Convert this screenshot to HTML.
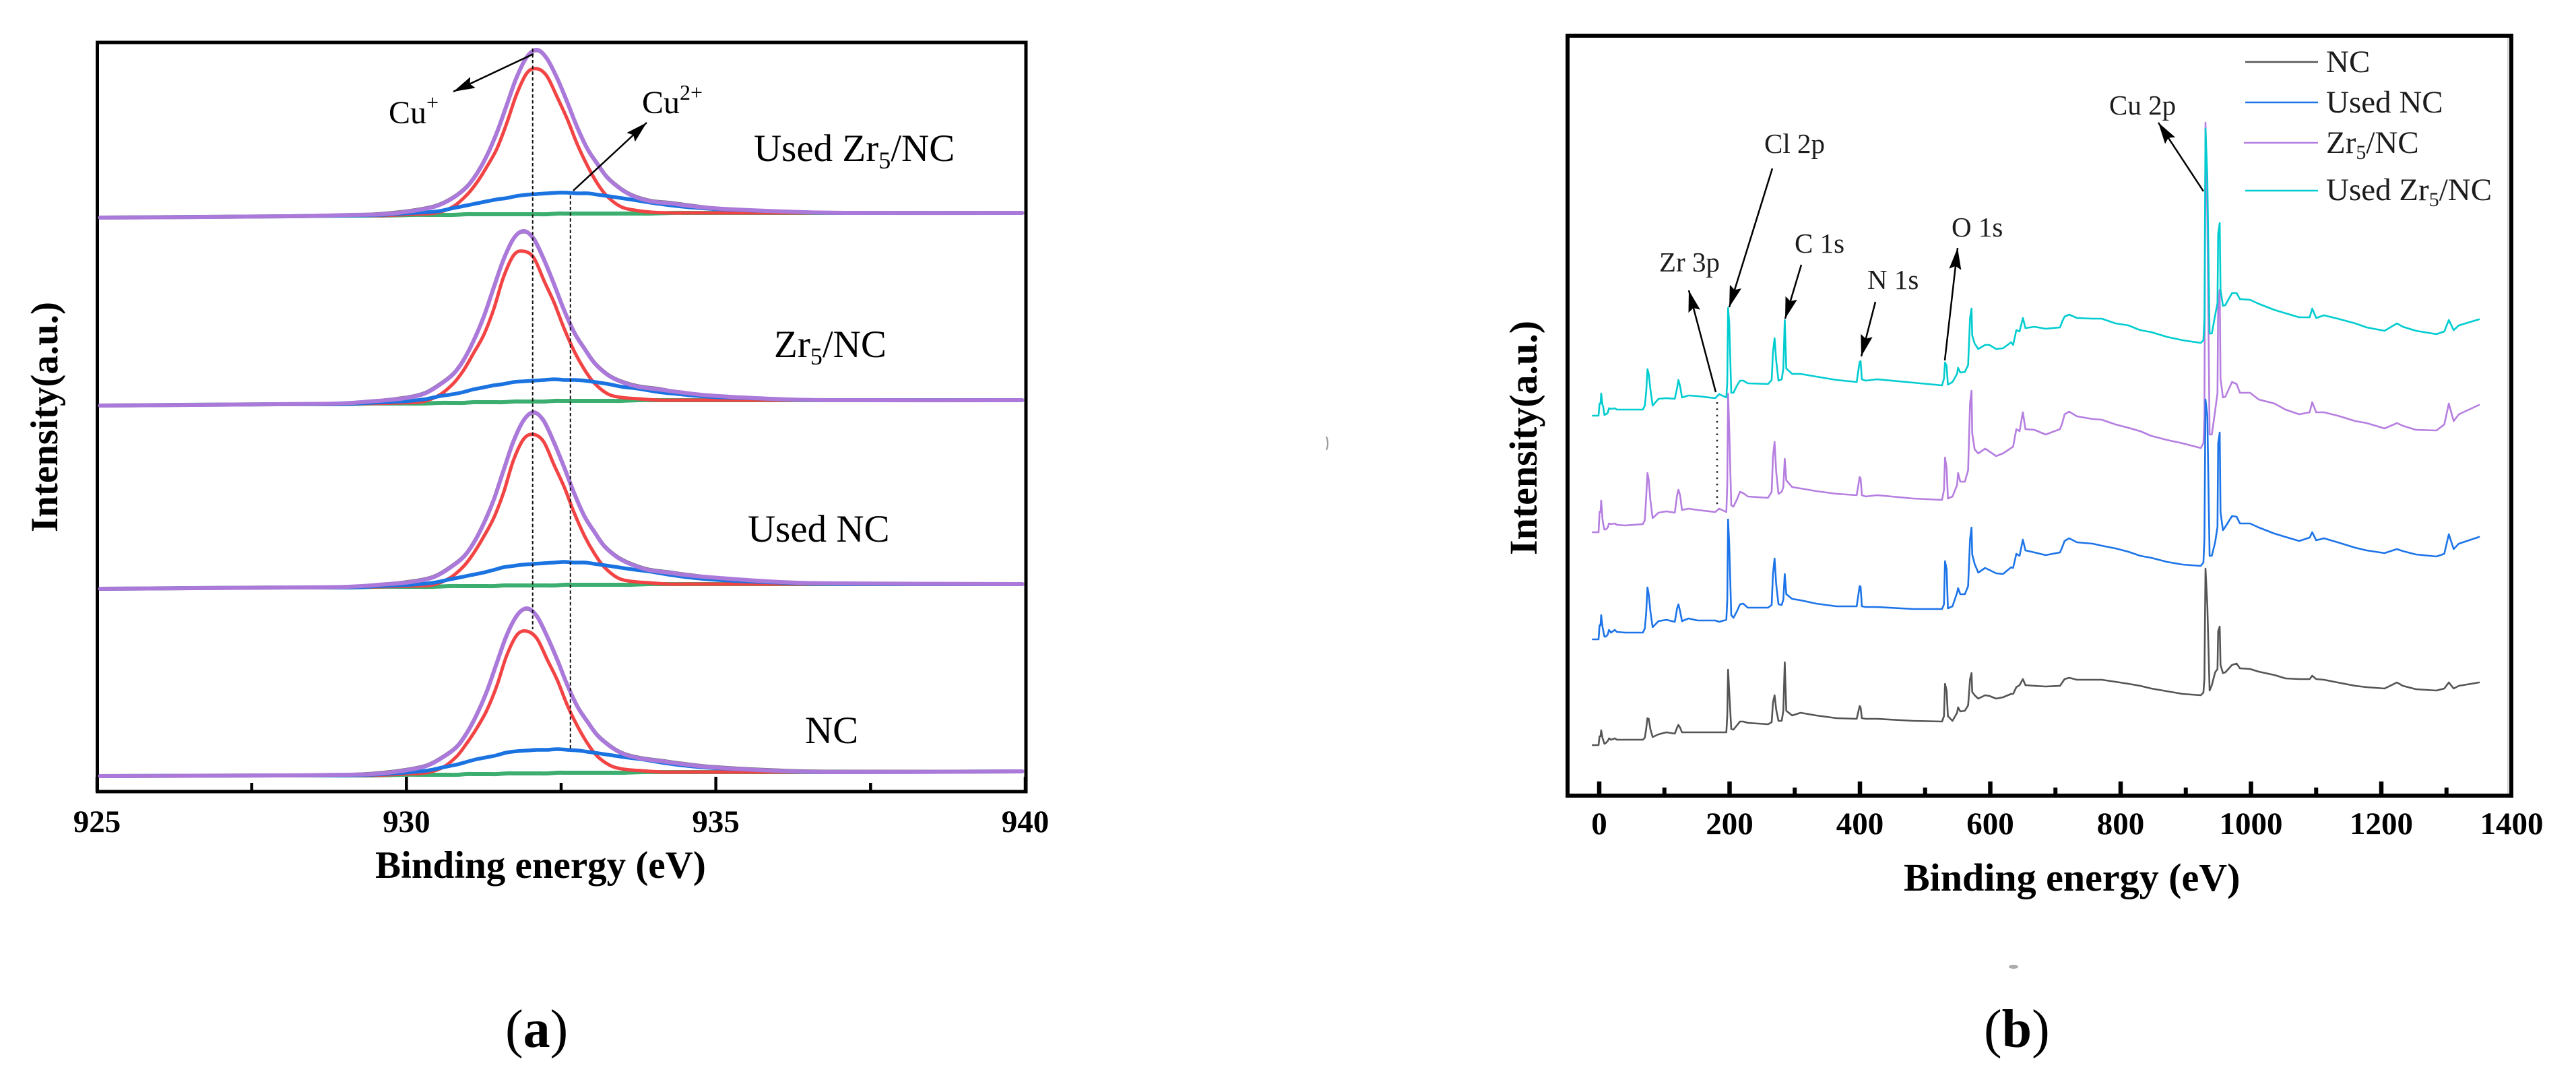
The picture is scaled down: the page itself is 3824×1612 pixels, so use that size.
<!DOCTYPE html>
<html lang="en">
<head>
<meta charset="utf-8">
<title>XPS spectra: Cu 2p fits and survey scans</title>
<style>
html,body{margin:0;padding:0;background:#fff;}
svg{display:block;}
text{font-family:"Liberation Serif",serif;fill:#000;}
.ann{font-size:41px;fill:#1c1c1c;}
.leg{font-size:47px;fill:#1c1c1c;}
.lab{font-size:57px;}
.ttl{font-size:57px;font-weight:bold;}
.tick{font-size:47px;font-weight:bold;text-anchor:middle;}
.cap{font-size:80px;}
</style>
</head>
<body>
<svg id="figure" xmlns="http://www.w3.org/2000/svg" width="3824" height="1612" viewBox="0 0 3824 1612">
<defs>
<marker id="head" markerUnits="userSpaceOnUse" markerWidth="34" markerHeight="20" refX="32" refY="10" orient="auto">
<path d="M0 1 L32 10 L0 19 L5 10 Z" fill="#000"/>
</marker>
</defs>
<rect x="0" y="0" width="3824" height="1612" fill="#fff"/>

<g id="panelA">
<rect x="144.5" y="63" width="1378.5" height="1112" fill="none" stroke="#000" stroke-width="5"/>
<g id="seriesA"></g>
<g id="refA"></g>
<g id="ticksA"></g>
<text class="ttl" x="557" y="1303">Binding energy (eV)</text>
<text class="ttl" transform="translate(85,790) rotate(-90)">Intensity(a.u.)</text>
<line x1="792" y1="80" x2="673" y2="136" stroke="#000" stroke-width="2.5" marker-end="url(#head)"/>
<line x1="851" y1="283" x2="960" y2="182" stroke="#000" stroke-width="2.5" marker-end="url(#head)"/>
<text x="577" y="183" font-size="48">Cu<tspan dy="-20" font-size="32">+</tspan></text>
<text x="953" y="168" font-size="48">Cu<tspan dy="-20" font-size="32">2+</tspan></text>
<text class="lab" x="1119" y="239">Used Zr<tspan dy="11" font-size="36">5</tspan><tspan dy="-11">/NC</tspan></text>
<text class="lab" x="1149" y="530">Zr<tspan dy="11" font-size="36">5</tspan><tspan dy="-11">/NC</tspan></text>
<text class="lab" x="1110" y="804">Used NC</text>
<text class="lab" x="1195" y="1103">NC</text>
<text class="cap" x="750" y="1554">(<tspan font-weight="bold">a</tspan>)</text>
</g>

<g id="panelB">
<line x1="3723" y1="56" x2="3723" y2="1180" stroke="#c4c4c4" stroke-width="1.5"/>
<rect x="2327" y="53" width="1401" height="1128" fill="none" stroke="#000" stroke-width="6"/>
<g id="seriesB"></g>
<g id="ticksB"></g>
<text class="ttl" x="2826" y="1322" style="font-size:58px">Binding energy (eV)</text>
<text class="ttl" transform="translate(2281,824) rotate(-90)" style="font-size:58px">Intensity(a.u.)</text>
<line x1="2549" y1="597" x2="2549" y2="750" stroke="#222" stroke-width="2.5" stroke-dasharray="2.5 6.8"/>
<line x1="2547" y1="582" x2="2507" y2="431" stroke="#000" stroke-width="2.5" marker-end="url(#head)"/>
<line x1="2631" y1="250" x2="2567" y2="456" stroke="#000" stroke-width="2.5" marker-end="url(#head)"/>
<line x1="2674" y1="393" x2="2650" y2="473" stroke="#000" stroke-width="2.5" marker-end="url(#head)"/>
<line x1="2784" y1="448" x2="2763" y2="529" stroke="#000" stroke-width="2.5" marker-end="url(#head)"/>
<line x1="2887" y1="535" x2="2906" y2="368" stroke="#000" stroke-width="2.5" marker-end="url(#head)"/>
<line x1="3271" y1="284" x2="3204" y2="182" stroke="#000" stroke-width="2.5" marker-end="url(#head)"/>
<text class="ann" x="2463" y="403">Zr 3p</text>
<text class="ann" x="2619" y="227">Cl 2p</text>
<text class="ann" x="2664" y="375">C 1s</text>
<text class="ann" x="2772" y="429">N 1s</text>
<text class="ann" x="2897" y="351">O 1s</text>
<text class="ann" x="3131" y="170">Cu 2p</text>
<g>
<g>
<line x1="3333" y1="92" x2="3441" y2="92" stroke="#555" stroke-width="2.5"/>
<text class="leg" x="3453" y="107">NC</text>
</g>
<g>
<line x1="3333" y1="152" x2="3441" y2="152" stroke="#1c74e8" stroke-width="2.5"/>
<text class="leg" x="3453" y="167">Used NC</text>
</g>
<g>
<line x1="3331" y1="212" x2="3441" y2="212" stroke="#b57ee0" stroke-width="2.5"/>
<text class="leg" x="3453" y="227">Zr<tspan dy="9" font-size="30">5</tspan><tspan dy="-9">/NC</tspan></text>
</g>
<g>
<line x1="3333" y1="283" x2="3441" y2="283" stroke="#00ccd0" stroke-width="2.5"/>
<text class="leg" x="3453" y="297">Used Zr<tspan dy="9" font-size="30">5</tspan><tspan dy="-9">/NC</tspan></text>
</g>
</g>
<text class="cap" x="2945" y="1554">(<tspan font-weight="bold">b</tspan>)</text>
</g>
<path d="M1969 648 Q1973 658 1969 668" fill="none" stroke="#999" stroke-width="2"/>
<ellipse cx="2989" cy="1435" rx="7" ry="3" fill="#aaa"/>
</svg>

<script>
/* ---------- Panel (a): Cu 2p3/2 fits ---------- */
const offsetFromPeak = [-7.3,-4,-3,-2.5,-2,-1.63,-1.36,-1.14,-0.98,-0.82,-0.65,-0.49,-0.33,-0.16,0,0.16,0.33,0.49,0.65,0.82,0.98,1.14,1.36,1.58,1.85,2.18,2.5,3,4,5,8.1];

const peakCenters = [932.11, 931.9, 932.06, 931.95];

const usedZr5Background = [852,854,855,855,856,856,856,857,857,857,857,857,857,857,857,857,858,858,858,858,858,858,858,858,858,859,859,859,859,859,859];
const usedZr5Raw = [0,0,1,3,7,14,26,41,60,86,122,163,204,234,243,231,200,166,129,96,74,54,37,26,19,15,11,6,2,0,0];
const usedZr5Envelope = [0,0,1,2,6,13,25,40,59,85,121,162,203,234,244,231,200,165,128,95,73,53,36,25,18,14,10,6,2,0,0];
const usedZr5CuI = [0,0,0,0,1,3,12,28,46,69,97,135,178,210,216,205,172,140,103,70,44,25,10,5,2,0,0,0,0,0,0];
const usedZr5CuII = [0,0,0,1,3,5,10,13,16,19,22,24,27,29,30,31,31,31,30,30,28,26,23,20,16,11,8,5,2,0,0];

const zr5Background = [573,575,575,576,576,576,577,577,577,578,578,578,578,579,579,579,579,580,580,580,580,580,580,580,581,581,581,581,581,581,581];
const zr5Raw = [0,0,1,3,8,15,28,44,64,91,128,171,213,243,252,242,210,173,135,101,78,57,39,29,21,17,12,7,2,0,0];
const zr5Envelope = [0,0,1,3,7,14,27,43,63,90,127,170,212,243,253,241,209,172,134,100,77,56,38,28,20,16,12,7,2,0,0];
const zr5CuI = [0,0,0,0,1,3,12,29,48,72,100,138,186,218,223,213,178,145,107,72,46,26,10,5,2,0,0,0,0,0,0];
const zr5CuII = [0,0,0,1,3,6,10,13,16,19,22,25,27,29,30,31,32,32,31,31,30,28,25,21,17,12,9,5,2,0,0];

const usedNcBackground = [301,303,303,304,304,304,305,305,305,305,305,306,306,306,306,306,306,307,307,307,307,307,307,307,308,308,308,308,308,308,308];
const usedNcRaw = [0,0,1,3,8,15,28,44,64,92,129,172,215,246,256,245,212,175,137,102,79,58,41,31,22,18,14,9,3,1,0];
const usedNcEnvelope = [0,0,1,3,7,14,27,43,63,91,128,171,214,246,257,244,211,174,136,101,78,57,40,30,21,17,13,9,3,1,0];
const usedNcCuI = [0,0,0,0,1,3,12,29,48,72,101,138,186,218,224,213,178,145,107,72,46,26,10,5,2,0,0,0,0,0,0];
const usedNcCuII = [0,0,0,1,3,6,10,14,17,20,24,27,29,31,32,33,34,34,33,33,31,29,26,23,19,14,10,6,2,0,0];

const ncBackground = [23,24,24,24,25,25,25,25,26,26,26,26,27,27,27,27,27,28,28,28,28,28,28,28,29,29,29,29,29,29,30];
const ncRaw = [0,0,1,3,7,14,27,42,61,88,124,166,206,235,244,233,203,168,131,98,76,56,39,28,21,17,13,8,3,1,0];
const ncEnvelope = [0,0,1,2,6,13,26,41,60,87,123,165,205,235,245,233,202,167,130,97,75,55,38,27,20,16,12,7,2,0,0];
const ncCuI = [0,0,0,0,1,3,11,27,45,67,95,131,175,206,211,200,168,137,100,68,43,24,10,5,2,0,0,0,0,0,0];
const ncCuII = [0,0,0,1,3,6,11,15,18,22,25,28,31,33,34,35,35,35,34,33,31,29,26,23,19,14,10,6,2,0,0];

const stackNames = ['used-zr5-nc','zr5-nc','used-nc','nc'];
const stackBackgrounds = [usedZr5Background, zr5Background, usedNcBackground, ncBackground];
const stackRaw = [usedZr5Raw, zr5Raw, usedNcRaw, ncRaw];
const stackEnvelopes = [usedZr5Envelope, zr5Envelope, usedNcEnvelope, ncEnvelope];
const stackCuI = [usedZr5CuI, zr5CuI, usedNcCuI, ncCuI];
const stackCuII = [usedZr5CuII, zr5CuII, usedNcCuII, ncCuII];

const ticksAValues = [925,927.5,930,932.5,935,937.5,940];
const ticksALabels = ['925','','930','','935','','940'];

const refEnergies = [932.04, 932.65];
const refTops = [1103, 885];
const refBottoms = [241, 61];

/* ---------- Panel (b): survey scans ---------- */
const bindingEnergy = [
-10,-1,0.5,2,3,5,6,8,10,13,15,18,24,27,40,67,
70,72,74,76,78.5,82,91,103,116,119.5,121.5,124,127,137,151,178,184,195,
196.5,197.7,199.5,202.6,206,211,216,221,228,259,264.6,266.6,269,271.5,275,280,282.5,284.6,287,296,309,333,364,395,
399.6,401,403,409,426,482,526,529,530.5,533,535,542,549,550.6,554,561,566,569,571.3,572.3,
576,581.6,592,598.6,609,619.5,632,635,640,645,650,654,667.7,685,707,710.5,714,721,733,757,771,792,812,830,847,871,895,923,
927,928.6,930.2,933,936.5,940,945,948.6,949.7,952,953.3,957,960.6,971,978,983,998.6,
1012,1036,1053,1074,1090,1094,1100,1112,1133,1160,1177.5,1205,1224,1233,1253,1284.5,1296.6,1303.6,1311,1319,1350];

const intensityNC = [
75,75,88,88,97,86,83,77,78,81,85,83,85,83,83,83,
86,99,115,114,99,87,91,94,92,101,105,101,94,94,94,94,94,94,
119,187,154,99,98,104,110,110,108,106,109,138,149,128,111,111,126,198,126,119,123,119,115,114,
133,131,115,114,114,111,110,118,166,156,118,111,123,131,125,126,134,173,182,154,
149,144,149,148,144,146,151,151,161,164,173,164,163,162,163,168,173,175,172,172,172,169,166,163,159,155,151,149,
153,174,337,283,156,164,183,188,244,251,194,182,183,194,196,189,188,
184,179,174,173,173,178,173,172,168,163,161,159,168,163,158,156,159,168,159,163,168];

const intensityUsedNC = [
232,232,253,253,268,251,246,236,236,239,246,242,246,243,242,242,
248,271,309,299,274,250,259,261,258,278,284,274,259,263,260,260,258,261,
290,410,373,268,264,273,284,285,279,279,283,329,352,314,284,283,291,329,299,292,290,285,281,281,
311,310,281,280,280,277,277,284,348,336,278,281,301,308,299,299,311,381,398,358,
344,331,338,335,330,329,339,338,359,356,380,364,361,357,361,369,378,382,376,374,371,367,362,356,353,347,343,341,
346,381,588,564,356,356,376,399,523,539,421,394,399,415,414,404,404,
398,389,384,378,383,391,379,382,376,368,364,360,366,363,358,355,359,388,366,374,384];

const intensityZr5NC = [
391,391,421,421,438,411,404,395,395,398,404,403,404,402,401,403,
409,443,479,469,439,412,420,422,420,446,454,446,424,426,424,421,426,421,
461,597,544,431,429,439,451,449,444,442,451,503,525,481,448,451,458,500,468,458,456,452,448,446,
473,471,446,444,446,441,439,454,502,486,441,444,461,479,466,466,483,583,601,538,
514,508,515,511,504,508,516,518,544,541,569,544,543,536,544,553,566,570,563,559,558,551,546,541,534,528,523,516,
523,560,999,860,536,536,571,598,730,751,619,591,592,614,611,598,598,
588,582,573,566,569,584,569,569,564,556,553,545,553,549,543,542,551,582,556,566,580];

const intensityUsedZr5NC = [
564,564,582,582,597,580,578,565,566,568,575,574,575,573,573,573,
579,599,633,626,604,579,589,590,589,605,617,608,591,594,593,590,596,591,
614,724,702,598,598,608,616,616,612,611,617,658,679,646,616,618,634,706,634,626,626,622,617,614,
644,645,618,616,618,613,609,619,643,638,610,614,626,635,628,629,639,709,723,683,
671,663,669,669,663,664,673,669,691,689,709,694,696,693,695,704,711,714,709,708,708,701,698,691,688,681,676,672,
676,708,990,919,686,686,713,731,834,850,751,727,728,746,746,737,736,
730,721,716,710,710,723,709,713,708,701,695,690,701,696,690,685,689,706,691,698,707];

const ticksBValues = [0,100,200,300,400,500,600,700,800,900,1000,1100,1200,1300,1400];
const ticksBLabels = ['0','','200','','400','','600','','800','','1000','','1200','','1400'];

/* ---------- Axis functions ---------- */
const SVGNS = 'http://www.w3.org/2000/svg';
function xA(e){ return 144 + (e - 925) * (1522 - 144) / 15; }
function yA(v){ return 1175 - v; }
function xB(e){ return 2374 + e * 0.9675; }
function yB(v){ return 1181 - v; }
function clampA(e){ return Math.min(939.95, Math.max(925.05, e)); }

function smoothPath(pts){
  let d = 'M' + pts[0][0].toFixed(1) + ' ' + pts[0][1].toFixed(1);
  for (let i = 0; i < pts.length - 1; i++){
    const p0 = pts[Math.max(0, i - 1)], p1 = pts[i], p2 = pts[i + 1], p3 = pts[Math.min(pts.length - 1, i + 2)];
    const c1x = p1[0] + (p2[0] - p0[0]) / 6, c1y = p1[1] + (p2[1] - p0[1]) / 6;
    const c2x = p2[0] - (p3[0] - p1[0]) / 6, c2y = p2[1] - (p3[1] - p1[1]) / 6;
    d += 'C' + c1x.toFixed(1) + ' ' + c1y.toFixed(1) + ' ' + c2x.toFixed(1) + ' ' + c2y.toFixed(1) + ' ' + p2[0].toFixed(1) + ' ' + p2[1].toFixed(1);
  }
  return d;
}
function straightPath(pts){
  return pts.map(function(p, i){ return (i ? 'L' : 'M') + p[0].toFixed(1) + ' ' + p[1].toFixed(1); }).join('');
}
function makePath(parent, d, color, width){
  const el = document.createElementNS(SVGNS, 'path');
  el.setAttribute('d', d);
  el.setAttribute('fill', 'none');
  el.setAttribute('stroke', color);
  el.setAttribute('stroke-width', width);
  el.setAttribute('stroke-linejoin', 'round');
  el.setAttribute('stroke-linecap', 'round');
  parent.appendChild(el);
  return el;
}
function makeLine(parent, x1, y1, x2, y2, color, width){
  const el = document.createElementNS(SVGNS, 'line');
  el.setAttribute('x1', x1);
  el.setAttribute('y1', y1);
  el.setAttribute('x2', x2);
  el.setAttribute('y2', y2);
  el.setAttribute('stroke', color);
  el.setAttribute('stroke-width', width);
  parent.appendChild(el);
  return el;
}
function makeTickText(parent, x, y, str){
  const el = document.createElementNS(SVGNS, 'text');
  el.setAttribute('class', 'tick');
  el.setAttribute('x', x);
  el.setAttribute('y', y);
  el.textContent = str;
  parent.appendChild(el);
  return el;
}

/* ---------- Draw panel (a) ---------- */
const seriesA = document.getElementById('seriesA');
stackNames.forEach(function(name, s){
  const bg = stackBackgrounds[s];
  const centre = peakCenters[s];
  function curve(values, withBg){
    return smoothPath(offsetFromPeak.map(function(dE, i){
      return [xA(clampA(centre + dE)), yA(bg[i] + (withBg ? values[i] : 0))];
    }));
  }
  const green = makePath(seriesA, curve(bg, false), '#3cae6f', 6);
  
  
  const raw = makePath(seriesA, curve(stackRaw[s], true), '#666666', 5);
  
  
  const red = makePath(seriesA, curve(stackCuI[s], true), '#f24444', 5);
  
  
  const blue = makePath(seriesA, curve(stackCuII[s], true), '#1a73e0', 5.5);
  
  
  const purple = makePath(seriesA, curve(stackEnvelopes[s], true), '#ab79da', 6);
  
  
});

const refA = document.getElementById('refA');
refEnergies.forEach(function(e, i){
  const ln = makeLine(refA, xA(e), yA(refTops[i]), xA(e), yA(refBottoms[i]), '#111', 2);
  ln.setAttribute('stroke-dasharray', '5 3.5');
  
  
});

const ticksA = document.getElementById('ticksA');
ticksAValues.forEach(function(v, i){
  const major = ticksALabels[i] !== '';
  const t = makeLine(ticksA, xA(v), yA(0), xA(v), yA(major ? 22 : 13), '#000', 4.5);
  
  
  if (major){
    const lbl = makeTickText(ticksA, xA(v), 1235, ticksALabels[i]);
    
    
  }
});

/* ---------- Draw panel (b) ---------- */
const seriesB = document.getElementById('seriesB');
function spectrum(values){
  return straightPath(bindingEnergy.map(function(e, i){ return [xB(e), yB(values[i])]; }));
}
const lineNC = makePath(seriesB, spectrum(intensityNC), '#555555', 2.6);


const lineZr5 = makePath(seriesB, spectrum(intensityZr5NC), '#b57ee0', 2.6);


const lineUsedNC = makePath(seriesB, spectrum(intensityUsedNC), '#1c74e8', 2.6);


const lineUsedZr5 = makePath(seriesB, spectrum(intensityUsedZr5NC), '#00ccd0', 2.6);



const ticksB = document.getElementById('ticksB');
ticksBValues.forEach(function(v, i){
  const major = ticksBLabels[i] !== '';
  if (i < ticksBValues.length - 1){
    const t = makeLine(ticksB, xB(v), yB(0), xB(v), yB(major ? 21 : 12), '#000', major ? 6.5 : 6);
    
    
  }
  if (major){
    const lbl = makeTickText(ticksB, xB(v), 1238, ticksBLabels[i]);
    
    
  }
});
</script>
</body>
</html>
